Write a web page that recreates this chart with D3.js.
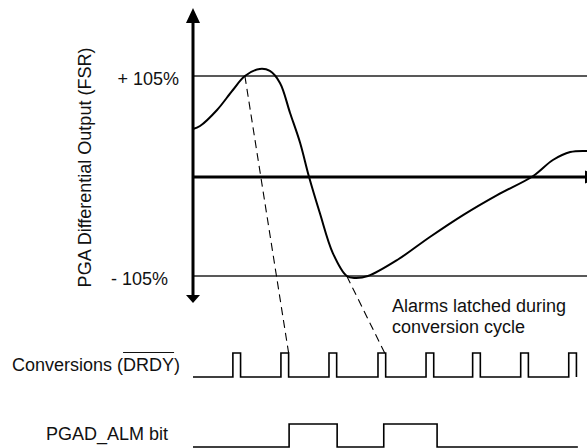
<!DOCTYPE html>
<html>
<head>
<meta charset="utf-8">
<script src="https://cdn.jsdelivr.net/npm/d3@7"></script>
<style>
html,body{margin:0;padding:0;background:#fff;}
svg{display:block;font-family:"Liberation Sans",Arial,Helvetica,sans-serif;}
</style>
</head>
<body>
<svg id="chart" width="587" height="448"></svg>
<script>
// ---- data (time in conversion periods, output in % FSR) ----
const curveTime  = [0, 0.146, 0.5, 0.83, 1.08, 1.39, 1.6, 1.81, 2.02, 2.23, 2.41, 2.64, 2.91, 3.2, 3.37, 3.64, 4.25, 4.93, 5.62, 6.33, 7.08, 7.49, 7.85, 8.2];
const curveValue = [49.4, 52.5, 69.3, 90.3, 105, 112.4, 110.3, 97.7, 66.2, 34.7, 0, -38.9, -80.9, -105, -107.1, -105, -88.2, -64, -41, -20, 0, 16.8, 25.2, 26.3];
const thresholds = [105, -105];
const thresholdLabels = ["+ 105%", "- 105%"];
const drdyRise   = [0.83, 1.83, 2.83, 3.85, 4.85, 5.82, 6.82, 7.82];
const drdyWidth  = 0.16;
const almTime    = [0, 2.0, 3.0, 3.97, 5.08, 8.01];
const almLevel   = [0, 1, 0, 1, 0, 0];
const latchFrom  = [[1.08, 105], [3.2, -105]];   // curve crossings
const latchTo    = [1.99, 3.99];                  // DRDY falling edges
const yLabel = "PGA Differential Output (FSR)";
const rowLabels = ["Conversions (", "DRDY", ")"];
const almLabel = "PGAD_ALM bit";
const noteLines = ["Alarms latched during", "conversion cycle"];

// ---- scales ----
const svg = d3.select("#chart");
const x = d3.scaleLinear().domain([0, 8.2]).range([193, 587]);
const y = d3.scaleLinear().domain([-105, 105]).range([276, 76]);
const yDrdy = d3.scaleLinear().domain([0, 1]).range([377, 353]);
const yAlm  = d3.scaleLinear().domain([0, 1]).range([447, 424]);
const font = 18;

// threshold lines
svg.selectAll("line.thr").data(thresholds).join("line")
  .attr("x1", x(0)).attr("x2", 587)
  .attr("y1", d => y(d)).attr("y2", d => y(d))
  .attr("stroke", "#222").attr("stroke-width", 1.3);

svg.selectAll("text.thr").data(thresholds).join("text")
  .attr("x", (d,i) => i === 0 ? 179 : 168)
  .attr("y", d => y(d) + 9)
  .attr("text-anchor", "end").attr("font-size", font).attr("fill", "#111")
  .text((d,i) => thresholdLabels[i]);

// zero axis with arrow
svg.append("line").attr("x1", x(0)).attr("x2", 586).attr("y1", y(0)+1).attr("y2", y(0)+1)
  .attr("stroke", "#000").attr("stroke-width", 3);
svg.append("path")
  .attr("d", `M585,${y(0)+1-6.5} L600,${y(0)+1} L585,${y(0)+1+6.5} Z`)
  .attr("fill", "#000");

// vertical axis with arrows
const ax = x(0);
svg.append("line").attr("x1", ax).attr("x2", ax).attr("y1", 20).attr("y2", 297)
  .attr("stroke", "#000").attr("stroke-width", 3);
svg.append("path").attr("d", `M${ax},8 L${ax+7},23 L${ax-7},23 Z`).attr("fill", "#000");
svg.append("path").attr("d", `M${ax},303 L${ax+7},295 L${ax-7},295 Z`).attr("fill", "#000");

// y label
svg.append("text")
  .attr("transform", "translate(91,167.5) rotate(-90)")
  .attr("text-anchor", "middle").attr("font-size", font).attr("fill", "#111")
  .text(yLabel);

// analog curve
const curveData = curveTime.map((t,i) => [t, curveValue[i]]);
svg.append("path")
  .attr("d", d3.line().x(d => x(d[0])).y(d => y(d[1])).curve(d3.curveCatmullRom.alpha(0.5))(curveData))
  .attr("fill", "none").attr("stroke", "#000").attr("stroke-width", 2);

// dashed latch lines
svg.selectAll("line.latch").data(latchFrom).join("line")
  .attr("x1", d => x(d[0])).attr("y1", d => y(d[1]))
  .attr("x2", (d,i) => x(latchTo[i])).attr("y2", yDrdy(1))
  .attr("stroke", "#000").attr("stroke-width", 1.1).attr("stroke-dasharray", "8,5");

// DRDY waveform
const drdyPts = [[0,0]];
drdyRise.forEach(r => { drdyPts.push([r,1]); drdyPts.push([r+drdyWidth,0]); });
svg.append("path")
  .attr("d", d3.line().x(d => x(d[0])).y(d => yDrdy(d[1])).curve(d3.curveStepAfter)(drdyPts))
  .attr("fill", "none").attr("stroke", "#000").attr("stroke-width", 1.6);

// ALM waveform
const almPts = almTime.map((t,i) => [t, almLevel[i]]);
svg.append("path")
  .attr("d", d3.line().x(d => x(d[0])).y(d => yAlm(d[1])).curve(d3.curveStepAfter)(almPts))
  .attr("fill", "none").attr("stroke", "#000").attr("stroke-width", 1.6);

// row labels
const conv = svg.append("text").attr("x", 12).attr("y", 370.7)
  .attr("font-size", font).attr("fill", "#111");
rowLabels.forEach(s => conv.append("tspan").text(s));
const n0 = rowLabels[0].length, n1 = rowLabels[1].length;
const node = conv.node();
const s0 = node.getStartPositionOfChar(n0).x;
const e0 = node.getEndPositionOfChar(n0 + n1 - 1).x;
svg.append("line").attr("x1", s0).attr("x2", e0).attr("y1", 352.5).attr("y2", 352.5)
  .attr("stroke", "#111").attr("stroke-width", 1.2);

svg.append("text").attr("x", 46).attr("y", 440)
  .attr("font-size", font).attr("fill", "#111").text(almLabel);

// note
svg.selectAll("text.note").data(noteLines).join("text")
  .attr("x", 392).attr("y", (d,i) => 311.7 + i*21)
  .attr("font-size", font).attr("fill", "#111").text(d => d);
</script>
</body>
</html>
